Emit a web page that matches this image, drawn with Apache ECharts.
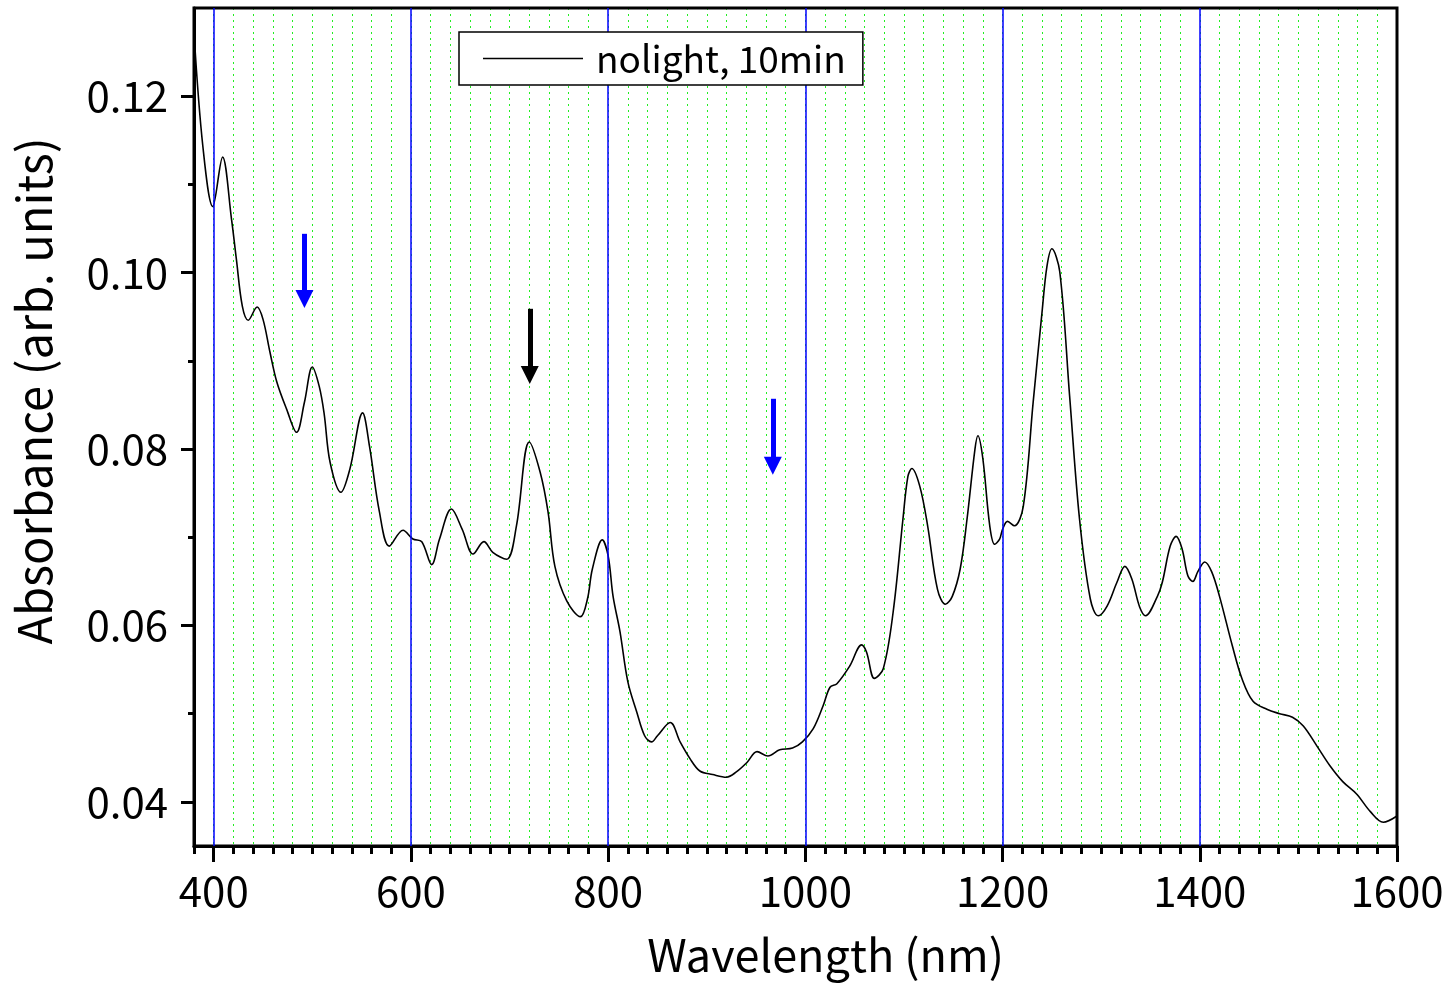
<!DOCTYPE html>
<html>
<head>
<meta charset="utf-8">
<script src="https://cdn.jsdelivr.net/npm/echarts@6/dist/echarts.min.js"></script>
<style>html,body{margin:0;padding:0;background:#fff;}#main{width:1453px;height:985px;}</style>
</head>
<body>
<div id="main"></div>
<script>
const wavelength = [380,389,399,409,418,423,429,435,444,450,457,464,474,484,492,500,507,512,518,529,538,551,558,568,578,592,602,611,621,629,641,652,663,674,683,697,707,720,731,739,746,758,772,779,784,794,800,805,812,820,829,837,844,850,863,873,883,893,906,920,930,941,951,962,974,987,997,1008,1018,1025,1032,1045,1057,1062,1070,1079,1089,1099,1104,1108,1116,1124,1134,1142,1149,1157,1164,1172,1175,1180,1187,1192,1197,1200,1205,1212,1221,1231,1240,1245,1250,1258,1268,1278,1289,1297,1306,1316,1324,1331,1339,1345,1357,1362,1370,1376,1382,1388,1393,1398,1405,1412,1420,1433,1443,1454,1468,1481,1494,1505,1519,1532,1545,1559,1573,1586,1600];
const absorbance = [0.1272,0.1143,0.1075,0.1131,0.1061,0.1015,0.0962,0.0946,0.0961,0.0947,0.0910,0.0876,0.0845,0.0819,0.0853,0.0893,0.0871,0.0840,0.0785,0.0751,0.0777,0.0841,0.0803,0.0729,0.0690,0.0708,0.0698,0.0695,0.0669,0.0698,0.0732,0.0709,0.0681,0.0695,0.0683,0.0675,0.0713,0.0808,0.0774,0.0729,0.0667,0.0628,0.0610,0.0630,0.0664,0.0697,0.0679,0.0633,0.0593,0.0536,0.0502,0.0475,0.0468,0.0475,0.0490,0.0468,0.0449,0.0435,0.0431,0.0428,0.0434,0.0445,0.0457,0.0452,0.0459,0.0461,0.0468,0.0483,0.0509,0.0530,0.0534,0.0554,0.0578,0.0570,0.0540,0.0551,0.0615,0.0721,0.0769,0.0778,0.0758,0.0713,0.0641,0.0624,0.0633,0.0664,0.0721,0.0800,0.0815,0.0789,0.0713,0.0692,0.0698,0.0709,0.0718,0.0713,0.0735,0.0853,0.0955,0.1007,0.1027,0.1001,0.0860,0.0721,0.0630,0.0611,0.0622,0.0649,0.0667,0.0653,0.0621,0.0611,0.0633,0.0649,0.0690,0.0701,0.0687,0.0656,0.0650,0.0661,0.0672,0.0661,0.0633,0.0577,0.0539,0.0514,0.0505,0.0500,0.0496,0.0486,0.0463,0.0441,0.0423,0.0409,0.0389,0.0377,0.0384];
const seriesName = 'nolight, 10min';
const xMajorTicks = [400,600,800,1000,1200,1400,1600];
const xBlueLines = [400,600,800,1000,1200,1400];
const yMajorTicks = [0.04,0.06,0.08,0.10,0.12];
const yMinorTicks = [0.05,0.07,0.09,0.11];
// arrows: [x, yStart, yEnd(tip), color]
const arrows = [[492,0.1044,0.0961,'#0000ff'],[720.5,0.0959,0.0875,'#000000'],[967,0.0857,0.0772,'#0000ff']];

const FONT = '"Noto Sans CJK JP", "Noto Sans", sans-serif';
const chart = echarts.init(document.getElementById('main'), null, {renderer:'canvas'});
const xMin = 380, xMax = 1600, yMin = 0.035, yMax = 0.130;
const arrowHead = 0.0009; // offset so triangle tip lands on the end point
const option = {
  animation:false,
  backgroundColor:'#fff',
  grid:{left:194, right:56, top:8, bottom:139, show:true, borderColor:'#000', borderWidth:3, z:5},
  legend:{
    left:459, top:32, orient:'horizontal',
    data:[{name:seriesName, icon:'rect'}],
    itemWidth:100, itemHeight:1.5,
    padding:[8,17,8,24],
    borderColor:'#000', borderWidth:1.5, borderRadius:0,
    backgroundColor:'#fff',
    textStyle:{fontFamily:FONT, fontSize:37, color:'#000', padding:[0,0,0,8]},
    z:20
  },
  xAxis:[{
    type:'value', min:xMin, max:xMax, interval:20,
    name:'Wavelength (nm)', nameLocation:'middle', nameGap:86,
    nameTextStyle:{fontFamily:FONT, fontSize:45, color:'#000', padding:[0,0,0,60]},
    axisLine:{show:true, lineStyle:{color:'#000', width:3}},
    axisTick:{show:true, inside:false, length:8, lineStyle:{color:'#000', width:3}},
    axisLabel:{show:true, customValues:xMajorTicks, fontFamily:FONT, fontSize:42, color:'#000', margin:24,
      formatter:function(v){return String(v);}},
    splitLine:{show:true, lineStyle:{color:'#22ee22', width:1, type:[2,4]}}
  },{
    type:'value', min:xMin, max:xMax, position:'bottom',
    axisLine:{show:false},
    axisTick:{show:true, customValues:xMajorTicks, length:16, lineStyle:{color:'#000', width:3}},
    axisLabel:{show:false},
    splitLine:{show:false}
  }],
  yAxis:[{
    type:'value', min:yMin, max:yMax, interval:0.005,
    name:'Absorbance (arb. units)', nameLocation:'middle', nameGap:136,
    nameTextStyle:{fontFamily:FONT, fontSize:47, color:'#000', padding:[0,0,0,72]},
    axisLine:{show:true, lineStyle:{color:'#000', width:3}},
    axisTick:{show:true, customValues:yMajorTicks, length:13, lineStyle:{color:'#000', width:3}},
    axisLabel:{show:true, customValues:yMajorTicks, fontFamily:FONT, fontSize:42, color:'#000', margin:26,
      formatter:function(v){return v.toFixed(2);}},
    splitLine:{show:false}
  },{
    type:'value', min:yMin, max:yMax, position:'left',
    axisLine:{show:false},
    axisTick:{show:true, customValues:yMinorTicks, length:6, lineStyle:{color:'#000', width:3}},
    axisLabel:{show:false},
    splitLine:{show:false}
  }],
  series:[{
    name:'gridMajor', type:'line', data:[], silent:true, z:1,
    markLine:{
      silent:true, symbol:['none','none'], animation:false,
      label:{show:false},
      lineStyle:{color:'#0000ff', width:1.5, type:'solid'},
      data: xBlueLines.map(v => ({xAxis:v}))
    }
  },{
    name:seriesName, type:'line', showSymbol:false, symbol:'none', smooth:0.35, z:3,
    data: wavelength.map((w,i)=>[w, absorbance[i]]),
    lineStyle:{color:'#000', width:1.6},
    itemStyle:{color:'#000'}
  },{
    name:'arrows', type:'line', data:[], silent:true, z:4,
    markLine:{
      silent:true, symbol:['none','triangle'], symbolSize:[18,18], animation:false,
      label:{show:false},
      data: arrows.map(a => [
        {coord:[a[0], a[1]], lineStyle:{color:a[3], width:5, type:'solid'}, itemStyle:{color:a[3]}},
        {coord:[a[0], a[2] + arrowHead], lineStyle:{color:a[3], width:5, type:'solid'}, itemStyle:{color:a[3]}}
      ])
    }
  }]
};
chart.setOption(option);
</script>
</body>
</html>
